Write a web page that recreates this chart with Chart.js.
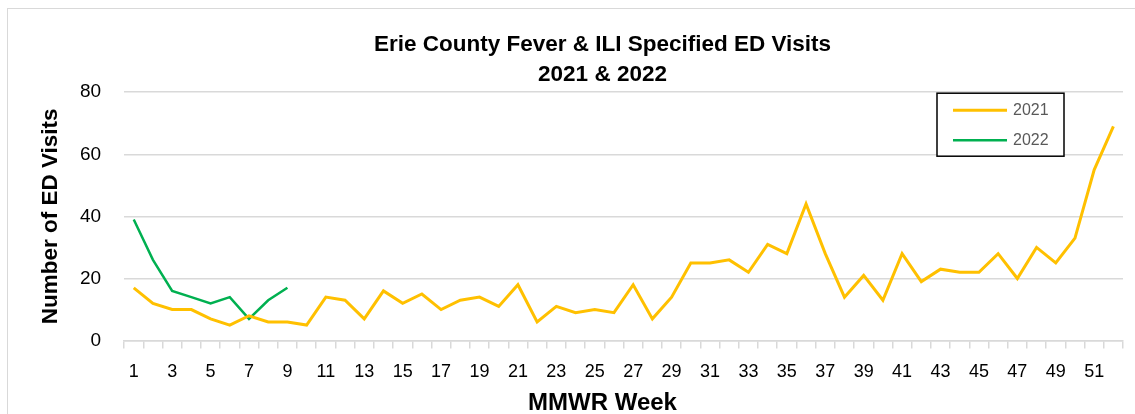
<!DOCTYPE html>
<html>
<head>
<meta charset="utf-8">
<script src="https://cdn.jsdelivr.net/npm/chart.js@4/dist/chart.umd.min.js"></script>
<style>
  html, body { margin: 0; padding: 0; background: #fff; overflow: hidden; }
  #wrap { position: absolute; left: 7px; top: 8px; width: 1190px; height: 410px;
          border-top: 1px solid #d9d9d9; border-left: 1px solid #d9d9d9; box-sizing: border-box; }
</style>
</head>
<body>
<div id="wrap"><canvas id="myChart"></canvas></div>
<script>
var weeks = [];
for (var w = 1; w <= 52; w++) weeks.push(String(w));

var visits2021 = [17, 12, 10, 10, 7, 5, 8, 6, 6, 5, 14, 13, 7, 16, 12, 15, 10, 13, 14, 11,
                  18, 6, 11, 9, 10, 9, 18, 7, 14, 25, 25, 26, 22, 31, 28, 44, 28, 14, 21, 13,
                  28, 19, 23, 22, 22, 28, 20, 30, 25, 33, 55, 69];
var visits2022 = [39, 26, 16, 14, 12, 14, 7, 13, 17];

var titleLines = ['Erie County Fever & ILI Specified ED Visits', '2021 & 2022'];
var xTitle = 'MMWR Week';

var font = "'Liberation Sans', Arial, sans-serif";

// Excel centres the chart title and the x title on the whole chart object,
// so chart.js only reserves the room and the text is drawn here
var centredTitles = {
    id: 'centredTitles',
    afterDraw: function (chart) {
        var ctx = chart.ctx;
        var cx = chart.width / 2;
        var tb = chart.titleBlock;
        var lh = tb.options.font.size * tb.options.font.lineHeight;
        ctx.save();
        ctx.fillStyle = '#000';
        ctx.textAlign = 'center';
        ctx.textBaseline = 'middle';
        ctx.font = 'bold ' + tb.options.font.size + 'px ' + font;
        for (var i = 0; i < titleLines.length; i++) {
            ctx.fillText(titleLines[i], cx, tb.top + lh * (i + 0.5));
        }
        var xs = chart.scales.x;
        var xf = xs.options.title.font;
        ctx.font = 'bold ' + xf.size + 'px ' + font;
        ctx.fillText(xTitle, cx, xs.bottom - xf.size * 1.2 / 2);
        ctx.restore();
    }
};

// boxed legend drawn inside the plot, like the original
var boxLegend = {
    id: 'boxLegend',
    afterDraw: function (chart) {
        var ctx = chart.ctx;
        var area = chart.chartArea;
        var right = area.right - 59, left = right - 127;
        var top = area.top + 1, rowH = 30;
        var sets = chart.data.datasets;
        ctx.save();
        ctx.fillStyle = '#fff';
        ctx.fillRect(left, top, 127, 63);
        ctx.strokeStyle = '#000';
        ctx.lineWidth = 1.5;
        ctx.strokeRect(left, top, 127, 63);
        ctx.font = '16px ' + font;
        ctx.textBaseline = 'middle';
        for (var i = 0; i < sets.length; i++) {
            var y = top + 17 + i * rowH;
            ctx.strokeStyle = sets[i].borderColor;
            ctx.lineWidth = sets[i].borderWidth;
            ctx.beginPath();
            ctx.moveTo(left + 16, y);
            ctx.lineTo(left + 70, y);
            ctx.stroke();
            ctx.fillStyle = '#595959';
            ctx.fillText(sets[i].label, left + 76, y);
        }
        ctx.restore();
    }
};

var ctx = document.getElementById('myChart').getContext('2d');
var myChart = new Chart(ctx, {
    type: 'line',
    data: {
        labels: weeks,
        datasets: [{
            label: '2021',
            data: visits2021,
            borderColor: '#FFC000',
            borderWidth: 3,
            pointRadius: 0,
            tension: 0
        }, {
            label: '2022',
            data: visits2022,
            borderColor: '#00B050',
            borderWidth: 2.5,
            pointRadius: 0,
            tension: 0
        }]
    },
    options: {
        responsive: true,
        maintainAspectRatio: false,
        animation: false,
        layout: { padding: { left: 17, right: 74, top: 20, bottom: 0 } },
        plugins: {
            legend: { display: false },
            tooltip: { enabled: false },
            title: {
                display: true,
                text: titleLines,
                color: 'rgba(0,0,0,0)',
                font: { family: font, size: 22.5, weight: 'bold', lineHeight: 1.36 },
                padding: { top: 0, bottom: 2 }
            }
        },
        scales: {
            x: {
                offset: true,
                grid: { offset: true, drawOnChartArea: false, color: '#d9d9d9', lineWidth: 1.5, tickLength: 8 },
                border: { color: '#d9d9d9', width: 1.5 },
                ticks: {
                    autoSkip: false,
                    maxRotation: 0,
                    color: '#000',
                    font: { family: font, size: 18 },
                    padding: 13,
                    callback: function (v, i) { return i % 2 === 0 ? this.getLabelForValue(v) : ''; }
                },
                title: { display: true, text: xTitle, color: 'rgba(0,0,0,0)',
                         font: { family: font, size: 24, weight: 'bold' }, padding: { top: -10, bottom: 3 } }
            },
            y: {
                min: 0,
                max: 80,
                ticks: { stepSize: 20, color: '#000', font: { family: font, size: 19 }, padding: 23 },
                grid: { color: '#d9d9d9', lineWidth: 1.5, drawTicks: false },
                border: { display: false },
                title: { display: true, text: 'Number of ED Visits', color: '#000',
                         font: { family: font, size: 22.5, weight: 'bold' }, padding: { top: 12, bottom: -7 } }
            }
        }
    },
    plugins: [centredTitles, boxLegend]
});
</script>
</body>
</html>
